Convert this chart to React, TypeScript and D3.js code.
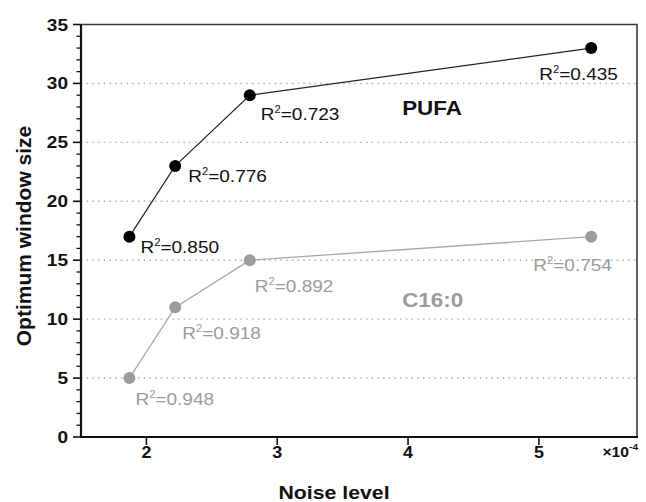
import React from 'react'
import { scaleLinear, line, range } from 'd3'

// noise level (x10^-4)
const noise = [1.87, 2.22, 2.79, 5.4]
const pufa = [17, 23, 29, 33]
const c16 = [5, 11, 15, 17]
const pufaR2 = ['0.850', '0.776', '0.723', '0.435']
const c16R2 = ['0.948', '0.918', '0.892', '0.754']
const xTicks = [2, 3, 4, 5]
const yTicks = [0, 5, 10, 15, 20, 25, 30, 35]
const gridTicks = [5, 10, 15, 20, 25, 30]

// label offsets (px) from each point
const pufaOff = [[11, 16], [13, 16], [11, 25], [-52, 32]]
const c16Off = [[6, 27], [7, 32], [5, 32], [-58, 34]]

const W = 646
const H = 502
const SX = 1.12
const FONT = 'Arial, "Liberation Sans", Helvetica, sans-serif'
const GREY = '#9c9c9c'

function R2({ x, y, v, color }) {
	return (
		<text transform={`translate(${x},${y}) scale(${SX},1)`} fontSize={17} fill={color} fontFamily={FONT}>
			R<tspan fontSize={10} dy={-7}>2</tspan>
			<tspan dy={7}>={v}</tspan>
		</text>
	)
}

export default function App() {
	const x = scaleLinear().domain([1.5, 5.75]).range([81, 637])
	const y = scaleLinear().domain([0, 35]).range([437, 24.5])

	const path = (vals) =>
		line()
			.x((d, i) => x(noise[i]))
			.y((d) => y(d))(vals)

	const minor = range(0, 36).filter((v) => v % 5 !== 0)

	return (
		<svg width={W} height={H} style={{ position: 'absolute', left: 0, top: 0, background: '#fff' }}>
			{/* grid */}
			{gridTicks.map((t) => (
				<line key={t} x1={x.range()[0]} x2={x.range()[1]} y1={y(t)} y2={y(t)} stroke="#a8a8a8" strokeWidth={1.4} strokeDasharray="1.4 4.3" />
			))}

			{/* frame */}
			<path d={`M${x.range()[0]},${y(35)}H${x.range()[1]}V${y(0)}`} fill="none" stroke="#3a3a3a" strokeWidth={1.6} />
			<line x1={x.range()[0]} x2={x.range()[1] + 1} y1={y(0)} y2={y(0)} stroke="#111" strokeWidth={2.2} />
			<line x1={x.range()[0]} x2={x.range()[0]} y1={y(0) + 1} y2={y(35)} stroke="#111" strokeWidth={2.2} />

			{/* y ticks */}
			{yTicks.map((t) => (
				<g key={t}>
					<line x1={x.range()[0] - 8} x2={x.range()[0]} y1={y(t)} y2={y(t)} stroke="#111" strokeWidth={1.6} />
					<text transform={`translate(${68},${y(t) + 6}) scale(${SX},1)`} textAnchor="end" fontSize={17} fontWeight="bold" fontFamily={FONT} fill="#111">
						{t}
					</text>
				</g>
			))}
			{minor.map((t) => (
				<line key={t} x1={x.range()[0] - 4.5} x2={x.range()[0]} y1={y(t)} y2={y(t)} stroke="#111" strokeWidth={1.3} />
			))}

			{/* x ticks */}
			{xTicks.map((t) => (
				<g key={t}>
					<line x1={x(t)} x2={x(t)} y1={y(0)} y2={y(0) + 8} stroke="#111" strokeWidth={1.6} />
					<text transform={`translate(${x(t)},${458}) scale(${SX},1)`} textAnchor="middle" fontSize={16} fontWeight="bold" fontFamily={FONT} fill="#111">
						{t}
					</text>
				</g>
			))}
			<text transform={`translate(${638},${457}) scale(${SX},1)`} textAnchor="end" fontSize={14} fontWeight="bold" fontFamily={FONT} fill="#111">
				×10<tspan fontSize={9} dy={-7}>-4</tspan>
			</text>

			{/* axis titles */}
			<text transform={`translate(${334},${499}) scale(${SX},1)`} textAnchor="middle" fontSize={19} fontWeight="bold" fontFamily={FONT} fill="#111">
				Noise level
			</text>
			<text transform={`translate(${31},${236}) rotate(-90)`} textAnchor="middle" fontSize={21} fontWeight="bold" fontFamily={FONT} fill="#111">
				Optimum window size
			</text>

			{/* series */}
			<path d={path(c16)} fill="none" stroke="#a8a8a8" strokeWidth={1.3} />
			<path d={path(pufa)} fill="none" stroke="#222" strokeWidth={1.2} />
			{c16.map((v, i) => (
				<circle key={'c' + i} cx={x(noise[i])} cy={y(v)} r={6} fill={GREY} />
			))}
			{pufa.map((v, i) => (
				<circle key={'p' + i} cx={x(noise[i])} cy={y(v)} r={6} fill="#000" />
			))}

			{pufa.map((v, i) => (
				<R2 key={'pl' + i} x={x(noise[i]) + pufaOff[i][0]} y={y(v) + pufaOff[i][1]} v={pufaR2[i]} color="#111" />
			))}
			{c16.map((v, i) => (
				<R2 key={'cl' + i} x={x(noise[i]) + c16Off[i][0]} y={y(v) + c16Off[i][1]} v={c16R2[i]} color={GREY} />
			))}

			<text transform={`translate(${x(3.955)},${y(27.3)}) scale(${SX},1)`} fontSize={20} fontWeight="bold" fontFamily={FONT} fill="#111">
				PUFA
			</text>
			<text transform={`translate(${x(3.955)},${y(11.0)}) scale(${SX},1)`} fontSize={20} fontWeight="bold" fontFamily={FONT} fill={GREY}>
				C16:0
			</text>
		</svg>
	)
}
